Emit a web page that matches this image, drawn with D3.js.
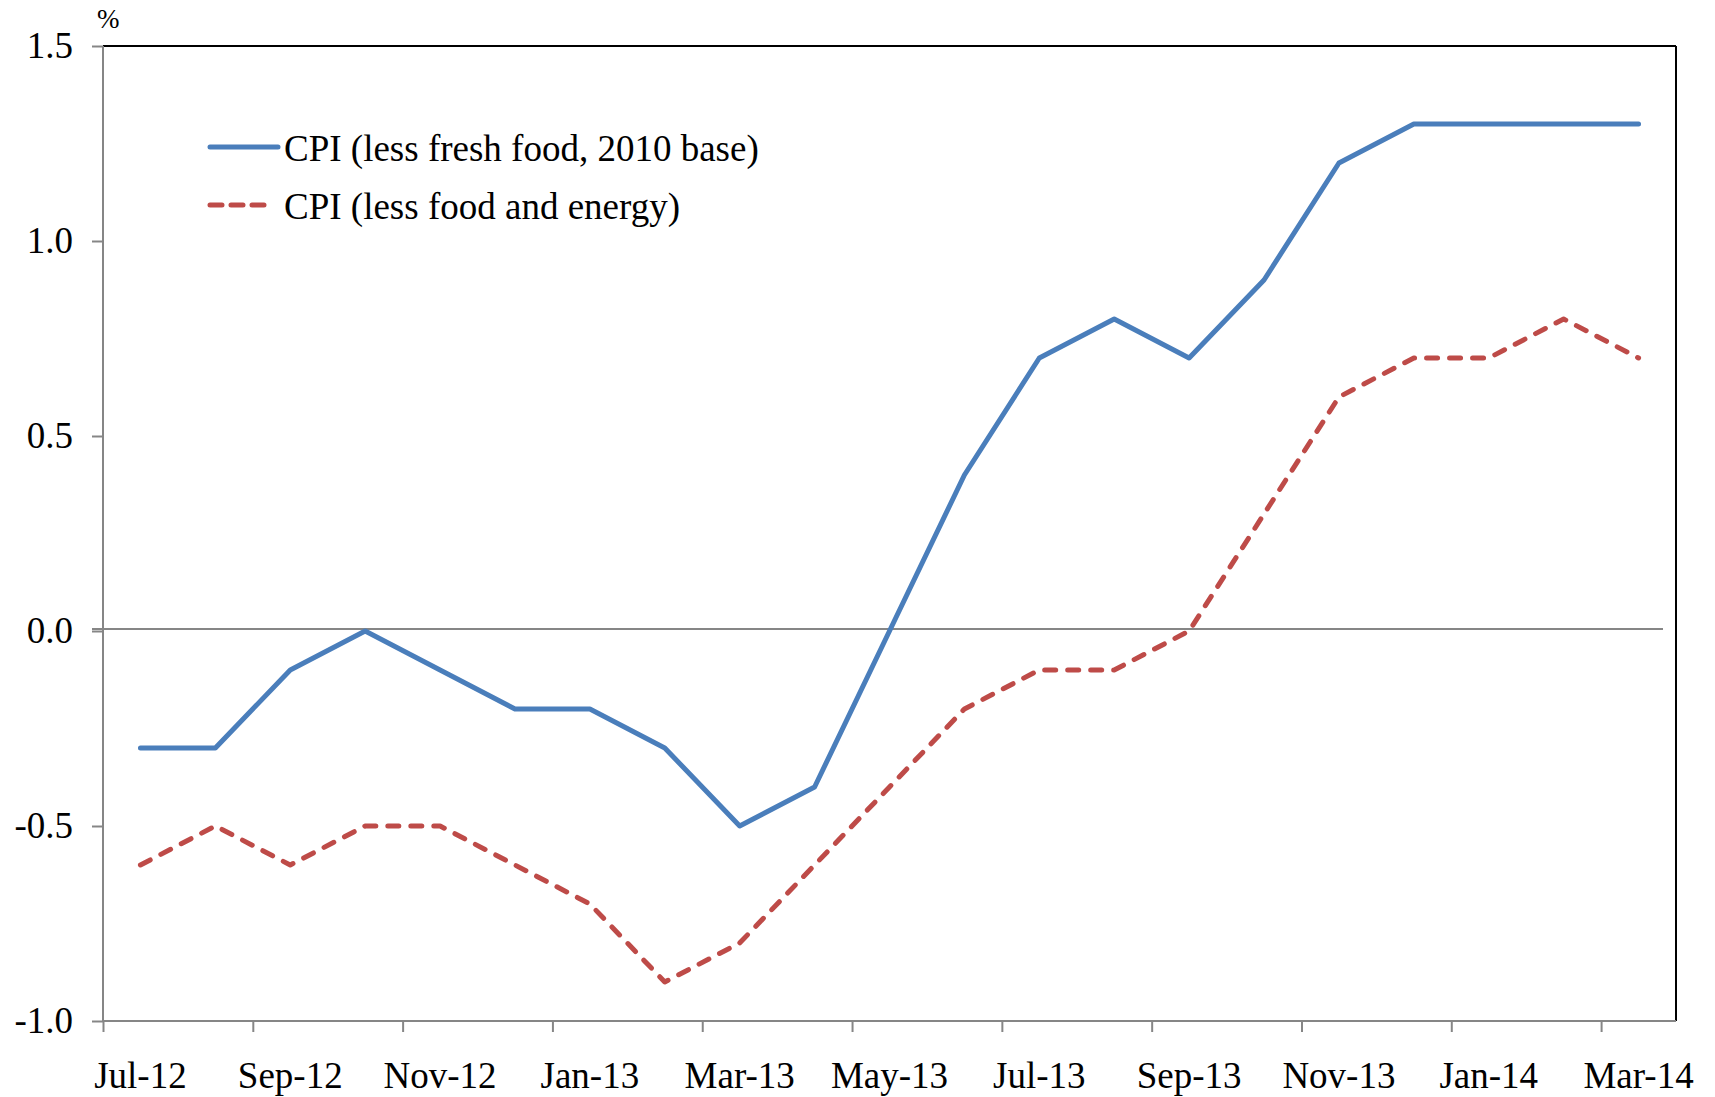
<!DOCTYPE html>
<html>
<head>
<meta charset="utf-8">
<script src="https://cdnjs.cloudflare.com/ajax/libs/d3/7.8.5/d3.min.js"></script>
<style>
  html, body { margin: 0; padding: 0; background: #fff; }
  text { font-family: "Liberation Serif", "Times New Roman", serif; fill: #000; }
</style>
</head>
<body>
<script>
// months on the category axis
const months = ['Jul-12','Aug-12','Sep-12','Oct-12','Nov-12','Dec-12',
  'Jan-13','Feb-13','Mar-13','Apr-13','May-13','Jun-13','Jul-13','Aug-13',
  'Sep-13','Oct-13','Nov-13','Dec-13','Jan-14','Feb-14','Mar-14']

// CPI (less fresh food, 2010 base), y/y %
const cpiLessFresh = [-0.3,-0.3,-0.1,0.0,-0.1,-0.2,-0.2,-0.3,-0.5,-0.4,0.0,
  0.4,0.7,0.8,0.7,0.9,1.2,1.3,1.3,1.3,1.3]
// CPI (less food and energy), y/y %
const cpiLessFoodEnergy = [-0.6,-0.5,-0.6,-0.5,-0.5,-0.6,-0.7,-0.9,-0.8,-0.6,-0.4,
  -0.2,-0.1,-0.1,0.0,0.3,0.6,0.7,0.7,0.8,0.7]

const yTicks = [-1.0,-0.5,0.0,0.5,1.0,1.5]
const legendNames = ['CPI (less fresh food, 2010 base)','CPI (less food and energy)']

const width = 1715
const height = 1097
const margin = {left: 103, right: 39, top: 46, bottom: 76}

const blue = '#4a7ebb'
const red = '#be4b48'
const axisGrey = '#868686'
const fontSize = 37

const svg = d3.select('body').append('svg').attr('width', width).attr('height', height)

// index scale: category i spans [i, i+1]
const xi = d3.scaleLinear().domain([0, months.length]).range([margin.left, width - margin.right])
const x = (i) => xi(i + 0.5)
const y = d3.scaleLinear().domain([-1, 1.5]).range([height - margin.bottom, margin.top])

// plot area border (top + right in black)
svg.append('line')
  .attr('x1', xi(0)).attr('x2', xi(months.length))
  .attr('y1', y(1.5)).attr('y2', y(1.5))
  .attr('stroke', '#000').attr('stroke-width', 2)
svg.append('line')
  .attr('x1', xi(months.length)).attr('x2', xi(months.length))
  .attr('y1', y(1.5)).attr('y2', y(-1))
  .attr('stroke', '#000').attr('stroke-width', 2)

// y axis
const yAxis = svg.append('g')
  .attr('transform', 'translate(' + margin.left + ',0)')
  .call(d3.axisLeft(y).tickValues(yTicks).tickFormat(d => d.toFixed(1)).tickSize(11).tickPadding(19))
yAxis.selectAll('path, line').attr('stroke', axisGrey).attr('stroke-width', 2)
yAxis.select('.domain').attr('d', 'M0,' + y(1.5) + 'V' + y(-1))
yAxis.selectAll('text').attr('font-size', fontSize).attr('font-family', '"Liberation Serif", "Times New Roman", serif')

// x axis: ticks between categories every 2, labels on category centres
const xAxis = svg.append('g')
  .attr('transform', 'translate(0,' + y(-1) + ')')
  .call(d3.axisBottom(xi).tickValues(d3.range(0, months.length, 2)).tickFormat('').tickSize(11))
xAxis.selectAll('path, line').attr('stroke', axisGrey).attr('stroke-width', 2)
xAxis.select('.domain').attr('d', 'M' + xi(0) + ',0H' + xi(months.length))

svg.append('g').selectAll('text')
  .data(d3.range(0, months.length, 2))
  .enter().append('text')
    .attr('x', (i) => x(i))
    .attr('y', 1088)
    .attr('text-anchor', 'middle')
    .attr('font-size', fontSize)
    .text((i) => months[i])

// zero line
svg.append('line')
  .attr('x1', margin.left - 11).attr('x2', 1663)
  .attr('y1', y(0) - 2).attr('y2', y(0) - 2)
  .attr('stroke', axisGrey).attr('stroke-width', 2)

// unit label
svg.append('text').attr('x', 97).attr('y', 28).attr('font-size', 27).text('%')

// series
const line = d3.line().x((d, i) => x(i)).y((d) => y(d))

svg.append('path')
  .datum(cpiLessFoodEnergy)
  .attr('d', line)
  .attr('fill', 'none').attr('stroke', red).attr('stroke-width', 5)
  .attr('stroke-dasharray', '11,12').attr('stroke-linecap', 'round').attr('stroke-linejoin', 'round')

svg.append('path')
  .datum(cpiLessFresh)
  .attr('d', line)
  .attr('fill', 'none').attr('stroke', blue).attr('stroke-width', 5)
  .attr('stroke-linecap', 'round').attr('stroke-linejoin', 'round')

// legend
const legend = svg.append('g')
const legendRows = [
  {name: legendNames[0], color: blue, dashed: false, y: 147},
  {name: legendNames[1], color: red, dashed: true, y: 205}
]
legendRows.forEach((r) => {
  legend.append('line')
    .attr('x1', 210).attr('x2', r.dashed ? 268 : 278)
    .attr('y1', r.y).attr('y2', r.y)
    .attr('stroke', r.color).attr('stroke-width', 5).attr('stroke-linecap', 'round')
    .attr('stroke-dasharray', r.dashed ? '12,9' : null)
  legend.append('text')
    .attr('x', 284).attr('y', r.y + 14)
    .attr('font-size', fontSize)
    .text(r.name)
})
</script>
</body>
</html>
